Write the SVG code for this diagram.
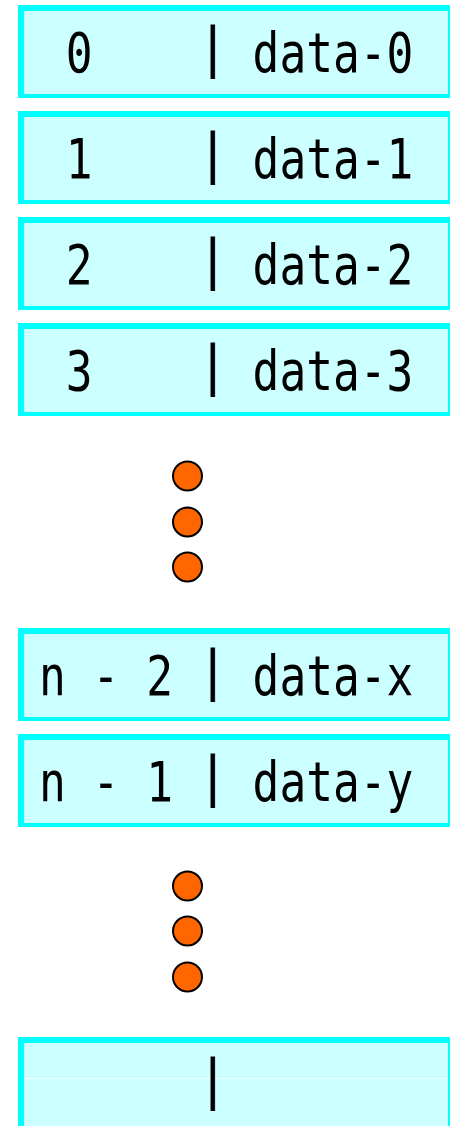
<svg xmlns="http://www.w3.org/2000/svg" width="450" height="1126" viewBox="0 0 450 1126">
  <style>
    .frame { fill: #00FFFF; }
    .cell { fill: #CCFFFF; }
    /* 44.5px mono gives a 26.7px advance; rows stretch it vertically */
    .txt { font-family: "DejaVu Sans Mono", "Liberation Mono", monospace; font-size: 44.5px; fill: #000000; }
    .bar { font-family: "DejaVu Sans Mono", "Liberation Mono", monospace; font-size: 53px; fill: #000000; stroke: #000000; stroke-width: 1px; }
    .dot { fill: #FF6600; stroke: #000000; stroke-width: 2; }
  </style>

  <!-- table rows: index | data -->
  <g id="row-0">
    <rect class="frame" x="18" y="5" width="432" height="93"/>
    <rect class="cell" x="24" y="11" width="424" height="83"/>
    <g transform="translate(0,72) scale(1,1.23)">
      <text class="txt" x="65.7" y="0">0</text>
      <text class="txt" x="252.6" y="0">data-0</text>
    </g>
    <text class="bar" x="199.5" y="66" textLength="26.7" lengthAdjust="spacingAndGlyphs">|</text>
  </g>
  <g id="row-1">
    <rect class="frame" x="18" y="111" width="432" height="93"/>
    <rect class="cell" x="24" y="117" width="424" height="83"/>
    <g transform="translate(0,178) scale(1,1.23)">
      <text class="txt" x="65.7" y="0">1</text>
      <text class="txt" x="252.6" y="0">data-1</text>
    </g>
    <text class="bar" x="199.5" y="172" textLength="26.7" lengthAdjust="spacingAndGlyphs">|</text>
  </g>
  <g id="row-2">
    <rect class="frame" x="18" y="217" width="432" height="93"/>
    <rect class="cell" x="24" y="223" width="424" height="83"/>
    <g transform="translate(0,284) scale(1,1.23)">
      <text class="txt" x="65.7" y="0">2</text>
      <text class="txt" x="252.6" y="0">data-2</text>
    </g>
    <text class="bar" x="199.5" y="278" textLength="26.7" lengthAdjust="spacingAndGlyphs">|</text>
  </g>
  <g id="row-3">
    <rect class="frame" x="18" y="323" width="432" height="93"/>
    <rect class="cell" x="24" y="329" width="424" height="83"/>
    <g transform="translate(0,390) scale(1,1.23)">
      <text class="txt" x="65.7" y="0">3</text>
      <text class="txt" x="252.6" y="0">data-3</text>
    </g>
    <text class="bar" x="199.5" y="384" textLength="26.7" lengthAdjust="spacingAndGlyphs">|</text>
  </g>

  <!-- vertical ellipsis between row 3 and row n-2 -->
  <g id="gap-upper">
    <circle class="dot" cx="187.5" cy="476" r="14.5"/>
    <circle class="dot" cx="187.5" cy="522" r="14.5"/>
    <circle class="dot" cx="187.5" cy="567" r="14.5"/>
  </g>

  <g id="row-n-2">
    <rect class="frame" x="18" y="628" width="432" height="93"/>
    <rect class="cell" x="24" y="634" width="424" height="83"/>
    <g transform="translate(0,695) scale(1,1.23)">
      <text class="txt" x="39" y="0">n - 2</text>
      <text class="txt" x="252.6" y="0">data-x</text>
    </g>
    <text class="bar" x="199.5" y="689" textLength="26.7" lengthAdjust="spacingAndGlyphs">|</text>
  </g>
  <g id="row-n-1">
    <rect class="frame" x="18" y="734" width="432" height="93"/>
    <rect class="cell" x="24" y="740" width="424" height="83"/>
    <g transform="translate(0,801) scale(1,1.23)">
      <text class="txt" x="39" y="0">n - 1</text>
      <text class="txt" x="252.6" y="0">data-y</text>
    </g>
    <text class="bar" x="199.5" y="795" textLength="26.7" lengthAdjust="spacingAndGlyphs">|</text>
  </g>

  <!-- vertical ellipsis between row n-1 and the last row -->
  <g id="gap-lower">
    <circle class="dot" cx="187.5" cy="886" r="14.5"/>
    <circle class="dot" cx="187.5" cy="931" r="14.5"/>
    <circle class="dot" cx="187.5" cy="977" r="14.5"/>
  </g>

  <!-- last, empty row (runs off the bottom edge) -->
  <g id="row-last">
    <rect class="frame" x="18" y="1037" width="432" height="89"/>
    <rect class="cell" x="24" y="1043" width="424" height="83"/>
    <line x1="24" y1="1078.5" x2="448" y2="1078.5" stroke="#F0FFFF" stroke-width="1"/>
    <text class="bar" x="199.5" y="1098" textLength="26.7" lengthAdjust="spacingAndGlyphs">|</text>
  </g>
</svg>
